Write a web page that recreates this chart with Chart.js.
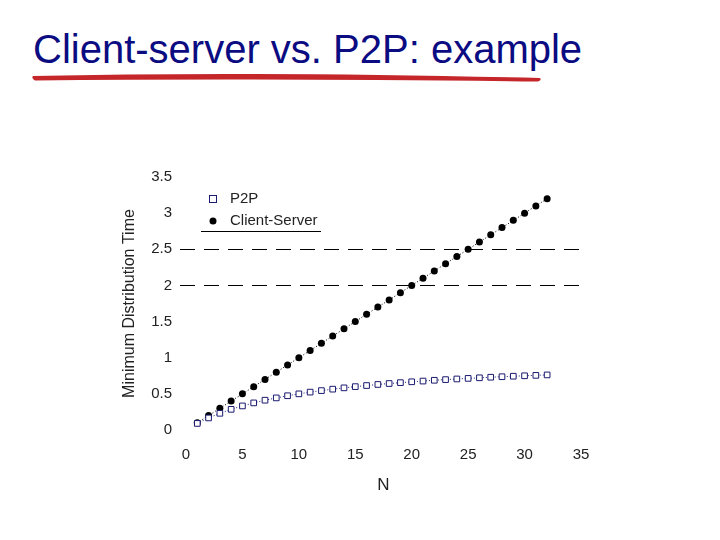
<!DOCTYPE html>
<html>
<head>
<meta charset="utf-8">
<script src="https://cdn.jsdelivr.net/npm/chart.js@4"></script>
<style>
  body { margin: 0; background: #fff; width: 720px; height: 540px; overflow: hidden; position: relative; }
  #title { position: absolute; left: 33px; top: 27px; font-family: "Liberation Sans", Arial, sans-serif; font-size: 40px; color: #0b0b82; white-space: nowrap; }
  #swoosh { position: absolute; left: 0; top: 0; }
  #wrap { position: absolute; left: 0; top: 0; width: 720px; height: 540px; }
</style>
</head>
<body>
<div id="title">Client-server vs. P2P: example</div>
<svg id="swoosh" width="720" height="100">
  <path d="M33,76 Q250,71 540,78 Q542,80 538,81.5 Q250,78 35,80.5 Q31,78 33,76 Z" fill="#c4262a"/>
</svg>
<div id="wrap"><canvas id="myChart" width="720" height="540"></canvas></div>
<script>
// değerler
const nValues = [1, 2, 3, 4, 5, 6, 7, 8, 9, 10, 11, 12, 13, 14, 15, 16,
                 17, 18, 19, 20, 21, 22, 23, 24, 25, 26, 27, 28, 29, 30, 31, 32];
const clientServer = [0.1, 0.2, 0.3, 0.4, 0.5, 0.6, 0.7, 0.8, 0.9, 1.0, 1.1, 1.2, 1.3, 1.4, 1.5, 1.6,
                      1.7, 1.8, 1.9, 2.0, 2.1, 2.2, 2.3, 2.4, 2.5, 2.6, 2.7, 2.8, 2.9, 3.0, 3.1, 3.2];
const p2p = [0.091, 0.167, 0.231, 0.286, 0.333, 0.375, 0.412, 0.444, 0.474, 0.5, 0.524, 0.545, 0.565, 0.583, 0.6, 0.615,
             0.63, 0.643, 0.655, 0.667, 0.677, 0.688, 0.697, 0.706, 0.714, 0.722, 0.73, 0.737, 0.744, 0.75, 0.756, 0.762];
const refLines = [2, 2.5];
const xTicks = [0, 5, 10, 15, 20, 25, 30, 35];
const yTicks = [0, 0.5, 1, 1.5, 2, 2.5, 3, 3.5];

const FONT = '"Liberation Sans", Arial, sans-serif';
const NAVY = '#1a1a70';

// kesikli yatay çizgiler ve sol üstteki açıklama kutusu
const extras = {
    id: 'extras',
    beforeDatasetsDraw(chart) {
        const ctx = chart.ctx;
        const area = chart.chartArea;
        const ys = chart.scales.y;
        ctx.save();
        ctx.strokeStyle = '#000';
        ctx.lineWidth = 1;
        ctx.setLineDash([15, 9]);
        refLines.forEach(v => {
            const py = Math.round(ys.getPixelForValue(v)) + 0.5;
            ctx.beginPath();
            ctx.moveTo(area.left - 6, py);
            ctx.lineTo(area.right, py);
            ctx.stroke();
        });
        ctx.restore();
    },
    afterDraw(chart) {
        const ctx = chart.ctx;
        const a = chart.chartArea;
        const lx = a.left + 27, tx = a.left + 44;
        ctx.save();
        ctx.font = '15px ' + FONT;
        ctx.fillStyle = '#222';
        ctx.textBaseline = 'middle';
        // P2P
        ctx.strokeStyle = NAVY;
        ctx.lineWidth = 1;
        ctx.strokeRect(lx - 3.5, a.top + 18.5, 7, 7);
        ctx.fillText('P2P', tx, a.top + 22);
        // Client-Server
        ctx.fillStyle = '#000';
        ctx.beginPath();
        ctx.arc(lx, a.top + 44, 3.5, 0, Math.PI * 2);
        ctx.fill();
        ctx.fillStyle = '#222';
        ctx.fillText('Client-Server', tx, a.top + 44);
        ctx.strokeStyle = '#000';
        ctx.beginPath();
        ctx.moveTo(a.left + 15, a.top + 54.5);
        ctx.lineTo(a.left + 135, a.top + 54.5);
        ctx.stroke();
        ctx.restore();
    }
};

const ctx = document.getElementById('myChart').getContext('2d');
const chart = new Chart(ctx, {
    type: 'line',
    data: {
        datasets: [
            {
                label: 'P2P',
                data: nValues.map((n, i) => ({ x: n, y: p2p[i] })),
                borderColor: NAVY,
                borderWidth: 1,
                borderDash: [1, 2],
                pointStyle: 'rect',
                pointRadius: 4,
                pointBorderWidth: 1,
                pointBorderColor: NAVY,
                pointBackgroundColor: '#fff',
                fill: false
            },
            {
                label: 'Client-Server',
                data: nValues.map((n, i) => ({ x: n, y: clientServer[i] })),
                borderColor: '#000',
                borderWidth: 1,
                borderDash: [1, 2],
                pointStyle: 'circle',
                pointRadius: 3.5,
                pointBorderWidth: 0,
                pointBackgroundColor: '#000',
                fill: false
            }
        ]
    },
    options: {
        responsive: false,
        animation: false,
        layout: { padding: { left: 120, right: 139, top: 177, bottom: 44 } },
        plugins: { legend: { display: false }, tooltip: { enabled: false } },
        scales: {
            x: {
                type: 'linear',
                min: 0, max: 35,
                afterFit: s => { s.height = 66; },
                afterBuildTicks: s => { s.ticks = xTicks.map(v => ({ value: v })); },
                grid: { display: false, drawTicks: false },
                border: { display: false },
                ticks: { color: '#222', font: { family: FONT, size: 15 }, padding: 16, maxRotation: 0 },
                title: { display: true, text: 'N', color: '#222', font: { family: FONT, size: 17 }, padding: 0 }
            },
            y: {
                type: 'linear',
                min: 0, max: 3.5,
                afterFit: s => { s.width = 66; },
                afterBuildTicks: s => { s.ticks = yTicks.map(v => ({ value: v })); },
                grid: { display: false, drawTicks: false },
                border: { display: false },
                ticks: { color: '#222', font: { family: FONT, size: 15 }, padding: 14, callback: v => String(v) },
                title: { display: true, text: 'Minimum Distribution Time', color: '#222', font: { family: FONT, size: 16 }, padding: 0 }
            }
        }
    },
    plugins: [extras]
});
</script>
</body>
</html>
